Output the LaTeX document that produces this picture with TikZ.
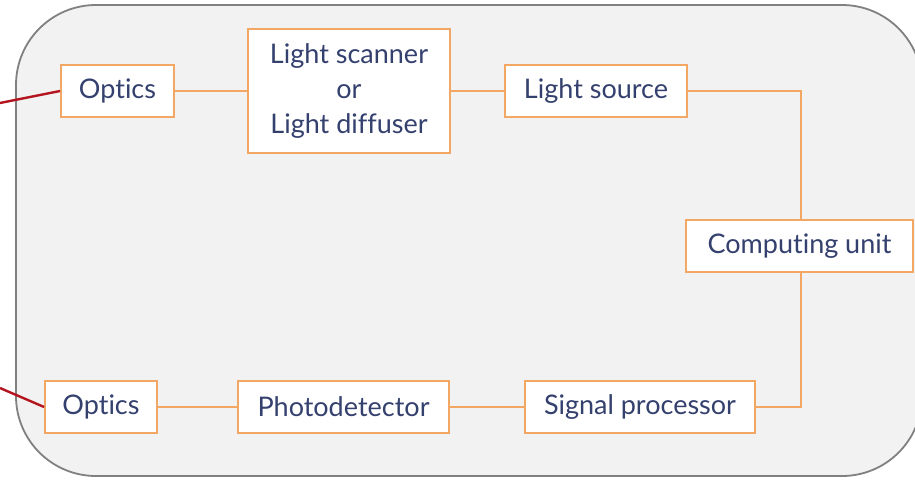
\documentclass[tikz,border=0pt]{standalone}
\usepackage{fontspec}
\setmainfont{Lato}[Ligatures={NoCommon}]
\definecolor{framegray}{RGB}{128,128,128}
\definecolor{panelfill}{RGB}{242,242,242}
\definecolor{boxorange}{RGB}{242,168,100}
\definecolor{textnavy}{RGB}{52,64,110}
\definecolor{fiberred}{RGB}{180,20,30}
\begin{document}
\begin{tikzpicture}[x=1pt,y=-1pt,
  block/.style={draw=boxorange,line width=1.8pt,fill=white,text=textnavy,
    font=\fontsize{27}{35}\selectfont,inner sep=0pt,minimum height=52pt,align=center},
  link/.style={draw=boxorange,line width=1.3pt},
  fiber/.style={draw=fiberred,line width=2.4pt}]
\useasboundingbox (0,0) rectangle (915,480);
% housing panel
\draw[framegray,line width=1.8pt,fill=panelfill,rounded corners=80pt]
  (16,5) rectangle (922,476);
% blocks
\node[block,minimum width=113pt] (opt1) at (117.5,91) {Optics};
\node[block,minimum width=202pt,minimum height=124pt] (scan) at (349,91)
  {Light scanner\\or\\Light diffuser};
\node[block,minimum width=182pt] (src) at (596,91) {Light source};
\node[block,minimum width=227pt] (comp) at (799.5,246) {Computing unit};
\node[block,minimum width=112pt] (opt2) at (101,407) {Optics};
\node[block,minimum width=211pt] (pd) at (343.5,407) {Photodetector};
\node[block,minimum width=230pt] (sp) at (640,407) {Signal processor};
% bus column
\coordinate (bus) at (801,91);
% connectors
\draw[link] (opt1.east) -- (scan.west |- opt1.east);
\draw[link] (scan.east |- src.west) -- (src.west);
\draw[link] (src.east) -- (bus) -- (bus |- comp.north);
\draw[link] (bus |- comp.south) -- (bus |- sp.east) -- (sp.east);
\draw[link] (sp.west) -- (pd.east);
\draw[link] (pd.west) -- (opt2.east);
% fibres leaving the housing
\coordinate (f1) at (0,103);
\coordinate (f2) at (0,388);
\draw[fiber] (f1) -- (opt1.west);
\draw[fiber] (f2) -- (opt2.west);
\end{tikzpicture}
\end{document}
